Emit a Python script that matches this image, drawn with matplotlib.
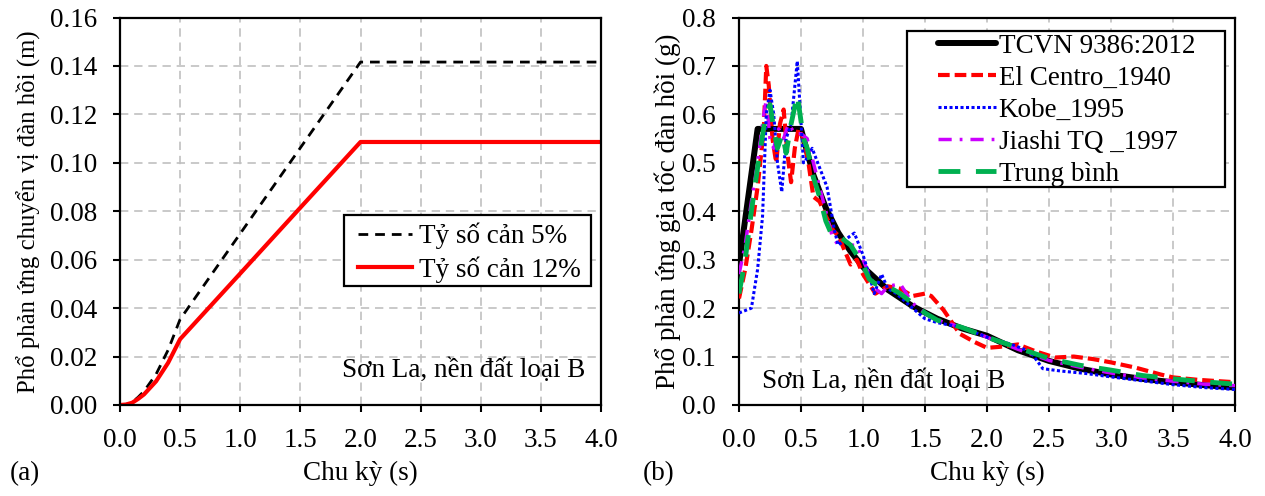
import matplotlib.pyplot as plt
from matplotlib.patches import Rectangle

plt.rcParams['font.family'] = ['Liberation Serif', 'DejaVu Serif']
plt.rcParams['font.size'] = 19.5

# (a) displacement spectrum
T_disp = [0.0, 0.05, 0.1, 0.15, 0.2, 0.3, 0.4, 0.5, 1.0, 1.5, 2.0, 4.0]
sd_5 = [0.0, 0.0002, 0.0011, 0.0032, 0.0057, 0.0127, 0.0227, 0.0354, 0.0708, 0.1062, 0.1416, 0.1416]
sd_12 = [0.0, 0.0002, 0.0009, 0.0025, 0.0044, 0.0098, 0.0174, 0.0272, 0.0543, 0.0815, 0.1086, 0.1086]

# (b) acceleration spectra
T_tcvn = [0.0, 0.15, 0.5, 0.6, 0.7, 0.8, 0.9, 1.0, 1.2, 1.4, 1.6, 1.8, 2.0, 2.25, 2.5, 2.75, 3.0, 3.25, 3.5, 3.75, 4.0]
sa_tcvn = [0.29, 0.57, 0.57, 0.475, 0.407, 0.356, 0.317, 0.285, 0.238, 0.204, 0.178, 0.158, 0.143, 0.113,
           0.091, 0.075, 0.063, 0.054, 0.047, 0.041, 0.036]

T_elc = [0.0, 0.05, 0.1, 0.15, 0.2, 0.22, 0.24, 0.27, 0.3, 0.33, 0.36, 0.39, 0.42, 0.45, 0.48, 0.52, 0.56,
         0.6, 0.65, 0.7, 0.76, 0.8, 0.85, 0.9, 0.95, 1.0, 1.05, 1.1, 1.2, 1.3, 1.4, 1.5, 1.55, 1.65, 1.78,
         1.9, 2.0, 2.1, 2.25, 2.4, 2.55, 2.7, 2.85, 3.0, 3.2, 3.4, 3.5, 3.7, 4.0]
sa_elc = [0.22, 0.28, 0.36, 0.45, 0.57, 0.70, 0.66, 0.55, 0.50, 0.58, 0.61, 0.52, 0.46, 0.53, 0.57, 0.55, 0.50,
          0.43, 0.42, 0.39, 0.36, 0.35, 0.32, 0.29, 0.30, 0.27, 0.25, 0.23, 0.245, 0.24, 0.225, 0.23, 0.225,
          0.196, 0.147, 0.13, 0.118, 0.12, 0.125, 0.11, 0.098, 0.10, 0.095, 0.088, 0.077, 0.063, 0.057,
          0.052, 0.047]

T_kobe = [0.0, 0.1, 0.15, 0.19, 0.22, 0.25, 0.28, 0.31, 0.345, 0.38, 0.42, 0.47, 0.52, 0.55, 0.59, 0.65,
          0.71, 0.77, 0.8, 0.85, 0.93, 1.0, 1.06, 1.09, 1.15, 1.2, 1.27, 1.4, 1.5, 1.6, 1.8, 2.0, 2.2, 2.35,
          2.45, 2.6, 2.8, 3.0, 3.25, 3.5, 3.75, 4.0]
sa_kobe = [0.19, 0.20, 0.28, 0.39, 0.60, 0.65, 0.60, 0.50, 0.44, 0.55, 0.58, 0.71, 0.50, 0.51, 0.53, 0.49,
           0.45, 0.36, 0.33, 0.34, 0.355, 0.31, 0.26, 0.23, 0.27, 0.24, 0.23, 0.20, 0.178, 0.17, 0.16, 0.14,
           0.125, 0.11, 0.075, 0.07, 0.065, 0.058, 0.05, 0.042, 0.036, 0.032]

T_jia = [0.0, 0.05, 0.1, 0.15, 0.2, 0.22, 0.25, 0.28, 0.32, 0.36, 0.4, 0.45, 0.5, 0.55, 0.6, 0.65, 0.7,
         0.75, 0.8, 0.85, 0.9, 0.95, 1.0, 1.05, 1.1, 1.15, 1.2, 1.3, 1.4, 1.5, 1.6, 1.8, 2.0, 2.25, 2.5,
         2.75, 3.0, 3.25, 3.5, 3.75, 4.0]
sa_jia = [0.27, 0.33, 0.42, 0.50, 0.60, 0.63, 0.55, 0.53, 0.57, 0.55, 0.58, 0.56, 0.56, 0.55, 0.50, 0.45,
          0.40, 0.35, 0.33, 0.34, 0.33, 0.33, 0.30, 0.27, 0.24, 0.23, 0.245, 0.25, 0.21, 0.19, 0.175, 0.16,
          0.14, 0.115, 0.092, 0.078, 0.066, 0.056, 0.049, 0.043, 0.04]

T_avg = [0.0, 0.05, 0.1, 0.15, 0.21, 0.25, 0.28, 0.31, 0.35, 0.38, 0.42, 0.47, 0.52, 0.55, 0.6, 0.65, 0.7,
         0.75, 0.8, 0.85, 0.9, 0.95, 1.0, 1.05, 1.1, 1.15, 1.2, 1.3, 1.4, 1.5, 1.6, 1.8, 2.0, 2.25, 2.5,
         2.75, 3.0, 3.25, 3.5, 3.75, 4.0]
sa_avg = [0.23, 0.30, 0.40, 0.49, 0.59, 0.62, 0.57, 0.53, 0.56, 0.52, 0.58, 0.64, 0.55, 0.53, 0.47, 0.43,
          0.38, 0.35, 0.35, 0.34, 0.33, 0.31, 0.29, 0.26, 0.25, 0.25, 0.245, 0.23, 0.21, 0.19, 0.175, 0.16,
          0.14, 0.118, 0.096, 0.082, 0.072, 0.061, 0.054, 0.048, 0.043]

x_ticks = [0.0, 0.5, 1.0, 1.5, 2.0, 2.5, 3.0, 3.5, 4.0]

fig = plt.figure(figsize=(12.65, 4.96), dpi=100)
ax1 = fig.add_axes([120 / 1265, 91 / 496, 481 / 1265, 387.5 / 496])
ax2 = fig.add_axes([739 / 1265, 91 / 496, 496 / 1265, 387.5 / 496])

for ax in (ax1, ax2):
    ax.grid(True, color='#c0c0c0', linestyle=(0, (5, 3.5)), linewidth=1.2)
    ax.set_axisbelow(True)
    ax.set_xlim(0, 4)
    ax.set_xticks(x_ticks)
    ax.set_xticklabels(['%.1f' % t for t in x_ticks])
    ax.tick_params(direction='out', length=5, width=1.5, pad=11.5, labelsize=19.5)
    for s in ax.spines.values():
        s.set_linewidth(1.6)
    ax.set_xlabel('Chu kỳ (s)', fontsize=19.5)
    ax.xaxis.set_label_coords(0.5, -0.143)

# (a)
ax1.plot(T_disp, sd_5, color='black', linestyle=(0, (3.5, 2.5)), linewidth=2.0, label='Tỷ số cản 5%')
ax1.plot(T_disp, sd_12, color='#ff0000', linewidth=3, label='Tỷ số cản 12%')
ax1.set_ylim(0, 0.16)
ax1.set_yticks([0.0, 0.02, 0.04, 0.06, 0.08, 0.10, 0.12, 0.14, 0.16])
ax1.set_yticklabels(['%.2f' % v for v in ax1.get_yticks()])
ax1.set_ylabel('Phổ phản ứng chuyển vị đàn hồi (m)', fontsize=17.8)
ax1.yaxis.set_label_coords(-0.165, 0.5)
ax1.add_patch(Rectangle((0.4657, 0.307), 0.979 - 0.4657, 0.490 - 0.307, transform=ax1.transAxes,
                        facecolor='white', edgecolor='black', linewidth=1.6, zorder=5))
leg1 = ax1.legend(loc='upper left', bbox_to_anchor=(0.495, 0.471), frameon=False, fontsize=19.5,
                  handlelength=2.0, handletextpad=0.26, borderpad=0, borderaxespad=0, labelspacing=0.26)
leg1.set_zorder(6)
ax1.text(0.967, 0.09, 'Sơn La, nền đất loại B', transform=ax1.transAxes, ha='right', va='center',
         fontsize=19.5)

# (b)
ax2.plot(T_tcvn, sa_tcvn, color='black', linewidth=4.3, solid_capstyle='round', label='TCVN 9386:2012',
         zorder=3)
ax2.plot(T_elc, sa_elc, color='#ff0000', linestyle=(0, (2.8, 1.2)), linewidth=3, label='El Centro_1940',
         zorder=4)
ax2.plot(T_kobe, sa_kobe, color='#0000ff', linestyle=(0, (1, 0.8)), linewidth=2.2, label='Kobe_1995',
         zorder=5)
ax2.plot(T_jia, sa_jia, color='#cc00ff', linestyle=(0, (3.8, 2.3, 0.8, 2.3)), linewidth=2.5,
         label='Jiashi TQ _1997', zorder=4)
ax2.plot(T_avg, sa_avg, color='#00b050', linestyle=(0, (4.5, 3.2)), linewidth=3.5, label='Trung bình',
         zorder=6)
ax2.set_ylim(0, 0.8)
ax2.set_yticks([0.0, 0.1, 0.2, 0.3, 0.4, 0.5, 0.6, 0.7, 0.8])
ax2.set_yticklabels(['%.1f' % v for v in ax2.get_yticks()])
ax2.set_ylabel('Phổ phản ứng gia tốc đàn hồi (g)', fontsize=19.5)
ax2.yaxis.set_label_coords(-0.117, 0.5)
ax2.add_patch(Rectangle((0.339, 0.5626), 0.980 - 0.339, 0.965 - 0.5626, transform=ax2.transAxes,
                        facecolor='white', edgecolor='black', linewidth=1.6, zorder=7))
leg2 = ax2.legend(loc='upper left', bbox_to_anchor=(0.401, 0.958), frameon=False, fontsize=19.5,
                  handlelength=2.14, handletextpad=0.1, borderpad=0, borderaxespad=0, labelspacing=0.26)
leg2.set_zorder(8)
ax2.text(0.047, 0.06, 'Sơn La, nền đất loại B', transform=ax2.transAxes, ha='left', va='center',
         fontsize=19.5)

fig.text(10 / 1265, 0.045, '(a)', fontsize=19.5, ha='left', va='center')
fig.text(643 / 1265, 0.045, '(b)', fontsize=19.5, ha='left', va='center')

fig.savefig('out.png', dpi=100)
